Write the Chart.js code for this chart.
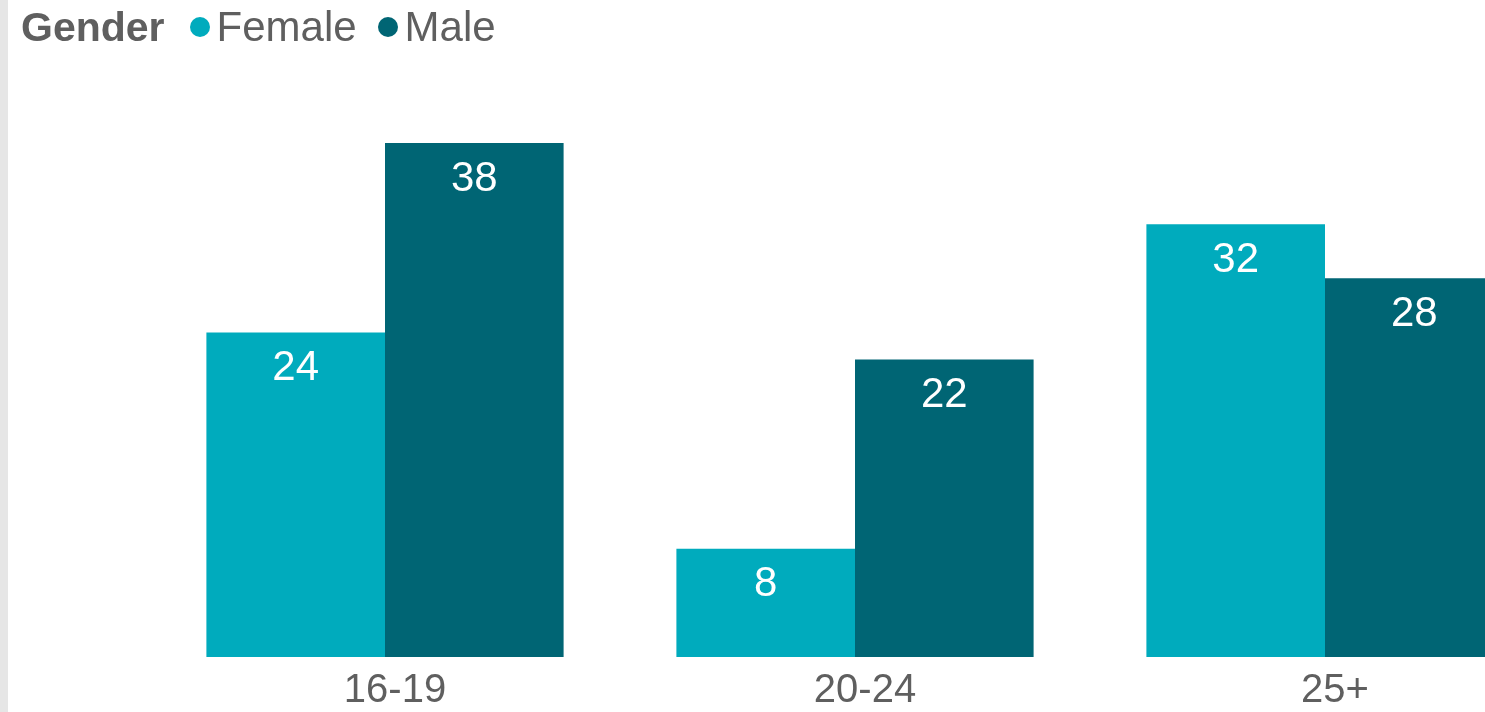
<!DOCTYPE html>
<html>
<head>
<meta charset="utf-8">
<script src="https://cdn.jsdelivr.net/npm/chart.js@4"></script>
<style>
  html, body { margin: 0; padding: 0; width: 1485px; height: 712px; overflow: hidden; background: #fff; }
  #strip { position: absolute; left: 0; top: 0; width: 8px; height: 712px; background: #e6e6e6; z-index: 2; }
  #wrap { position: absolute; left: 0; top: 0; width: 1600px; height: 712px; }
  #legend { position: absolute; left: 21px; top: 4px; z-index: 3; font-family: "Liberation Sans", Arial, sans-serif; color: #5f5f5f; white-space: nowrap; display: flex; align-items: center; height: 46px; }
  #legend .title { font-weight: bold; font-size: 41px; margin-right: 25px; }
  #legend .item { display: flex; align-items: center; font-size: 42px; margin-right: 21px; }
  #legend .dot { width: 20px; height: 20px; border-radius: 50%; margin-right: 7px; }
</style>
</head>
<body>
<div id="strip"></div>
<div id="legend"><span class="title">Gender</span></div>
<div id="wrap"><canvas id="chart" width="1600" height="712"></canvas></div>
<script>
// data
var ageGroups = ['16-19', '20-24', '25+'];
var female = [24, 8, 32];
var male = [38, 22, 28];
var seriesNames = ['Female', 'Male'];
var seriesColors = ['#00abbd', '#006574'];

// white value labels inside the top of each bar
const barLabels = {
    id: 'barLabels',
    afterDatasetsDraw(chart) {
        const ctx = chart.ctx;
        ctx.save();
        ctx.fillStyle = '#ffffff';
        ctx.font = '42px "Liberation Sans", Arial, sans-serif';
        ctx.textAlign = 'center';
        ctx.textBaseline = 'middle';
        chart.data.datasets.forEach((ds, i) => {
            chart.getDatasetMeta(i).data.forEach((bar, j) => {
                ctx.fillText(ds.data[j], bar.x, bar.y + 36);
            });
        });
        ctx.restore();
    }
};

var ctx = document.getElementById('chart').getContext('2d');
var chart = new Chart(ctx, {
    type: 'bar',
    data: {
        labels: ageGroups,
        datasets: [
            { label: seriesNames[0], data: female, backgroundColor: seriesColors[0] },
            { label: seriesNames[1], data: male, backgroundColor: seriesColors[1] }
        ]
    },
    options: {
        responsive: false,
        animation: false,
        layout: { padding: { left: 150, right: 40, top: 116, bottom: 0 } },
        datasets: { bar: { categoryPercentage: 0.76, barPercentage: 1.0 } },
        plugins: {
            legend: { display: false },
            tooltip: { enabled: false }
        },
        scales: {
            x: {
                grid: { display: false, drawTicks: false },
                border: { display: false },
                ticks: {
                    color: '#5f5f5f',
                    padding: 10,
                    labelOffset: 10,
                    font: { family: '"Liberation Sans", Arial, sans-serif', size: 40 }
                },
                afterFit: s => { s.height = 55; }
            },
            y: {
                display: false,
                min: 0,
                max: 40
            }
        }
    },
    plugins: [barLabels]
});

// html legend built from the datasets
var legend = document.getElementById('legend');
chart.data.datasets.forEach(ds => {
    var item = document.createElement('span');
    item.className = 'item';
    var dot = document.createElement('span');
    dot.className = 'dot';
    dot.style.background = ds.backgroundColor;
    item.appendChild(dot);
    item.appendChild(document.createTextNode(ds.label));
    legend.appendChild(item);
});
</script>
</body>
</html>
